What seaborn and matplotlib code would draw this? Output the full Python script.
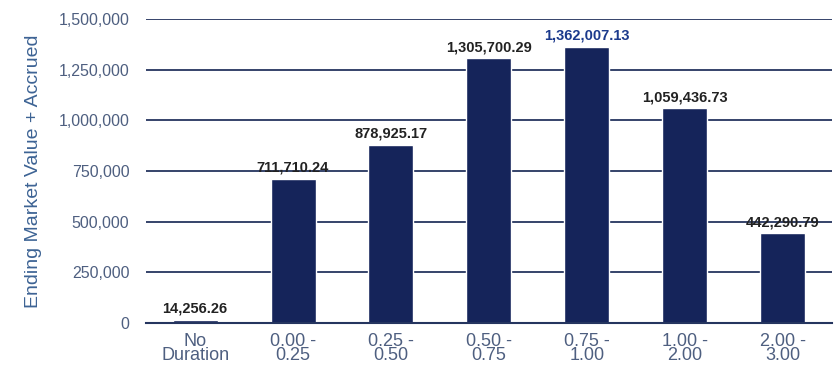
import matplotlib
matplotlib.use("Agg")
import matplotlib.pyplot as plt
import seaborn as sns
import numpy as np
from matplotlib.ticker import FuncFormatter, FixedLocator

categories = ["No\nDuration", "0.00 -\n0.25", "0.25 -\n0.50", "0.50 -\n0.75",
              "0.75 -\n1.00", "1.00 -\n2.00", "2.00 -\n3.00"]
values = [14256.26, 711710.24, 878925.17, 1305700.29, 1362007.13, 1059436.73, 442290.79]
value_labels = ["14,256.26", "711,710.24", "878,925.17", "1,305,700.29",
                "1,362,007.13", "1,059,436.73", "442,290.79"]
y_ticks = [0, 250000, 500000, 750000, 1000000, 1250000, 1500000]

sns.set_style("white")
plt.rcParams['font.family'] = ['Liberation Sans', 'DejaVu Sans']

fig = plt.figure(figsize=(8.4, 3.72), dpi=100)
ax = fig.add_axes([0.174, 0.132, 0.816, 0.817])

navy = "#15245a"
grid_c = "#25355f"
tick_c = "#4e5f80"

sns.barplot(x=categories, y=values, color=navy, width=0.46, ax=ax, saturation=1)

ax.set_ylim(0, 1500000)
ax.set_xlim(-0.5, len(categories) - 0.5)
ax.yaxis.set_major_locator(FixedLocator(y_ticks))
ax.yaxis.set_major_formatter(FuncFormatter(lambda v, p: f"{int(v):,}"))
ax.grid(axis="y", color=grid_c, linewidth=1.3)
ax.set_axisbelow(True)

for s in ["top", "right", "left"]:
    ax.spines[s].set_visible(False)
ax.spines["bottom"].set_color(grid_c)
ax.spines["bottom"].set_linewidth(1.5)

ax.tick_params(axis="y", length=0, labelsize=11.5, labelcolor=tick_c, pad=12)
ax.tick_params(axis="x", which="major", length=0, labelsize=13, labelcolor=tick_c, pad=7)
ax.set_xticks(np.arange(-0.5, len(categories), 1.0), minor=True)
ax.tick_params(axis="x", which="minor", length=6, width=1.3, color=grid_c, direction="out")
for t in ax.get_xticklabels():
    t.set_linespacing(0.8)

ax.set_ylabel("Ending Market Value + Accrued", color="#3d6394", fontsize=14, labelpad=12)
ax.set_xlabel("")

labels = ax.bar_label(ax.containers[0], labels=value_labels, padding=3,
                      fontsize=10.5, fontweight="bold", color="#222222")
labels[4].set_color("#1b3a8c")

fig.savefig("out.png", dpi=100, facecolor="white")
